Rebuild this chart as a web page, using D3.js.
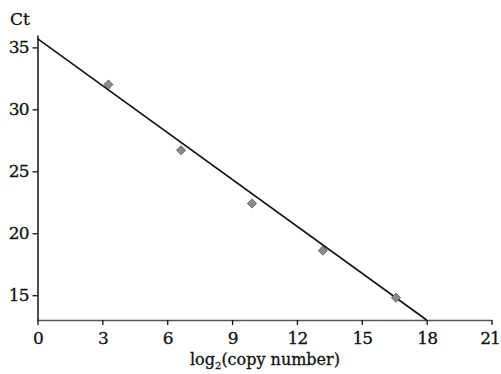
<!DOCTYPE html>
<html>
<head>
<meta charset="utf-8">
<script src="https://cdn.jsdelivr.net/npm/d3@7"></script>
<style>
  body { margin: 0; background: #fff; }
  svg text { font-family: "DejaVu Serif", "Liberation Serif", "Times New Roman", serif; fill: #111; stroke: #111; stroke-width: 0.3px; }
</style>
</head>
<body>
<script>
// Set up size
var width = 501;
var height = 374;
var margin = {left: 37.5, right: 9.5, top: 35, bottom: 54};

// Data: log2(copy number) vs Ct
var log2Copies = [3.28, 6.64, 9.92, 13.2, 16.58];
var ctValues = [32.0, 26.7, 22.4, 18.6, 14.8];

// Fitted line end points
var fitX = [0, 18];
var fitY = [35.7, 13.0];

var xTicks = [0, 3, 6, 9, 12, 15, 18, 21];
var yTicks = [15, 20, 25, 30, 35];

var x = d3.scaleLinear().domain([0, 21]).range([margin.left, width - margin.right]);
var y = d3.scaleLinear().domain([13, 36]).range([height - margin.bottom, margin.top]);

var svg = d3.select('body').append('svg')
  .attr('width', width)
  .attr('height', height);

// x axis
var xAxis = svg.append('g')
  .attr('transform', 'translate(0,' + y(13) + ')')
  .call(d3.axisBottom(x).tickValues(xTicks).tickSize(5).tickSizeOuter(0).tickPadding(7));
xAxis.select('.domain').attr('stroke', '#555').attr('stroke-width', 1.4);
xAxis.selectAll('line').attr('stroke', '#111').attr('stroke-width', 1.3);
xAxis.selectAll('text')
  .style('font-size', '17px')
  .style('letter-spacing', '-1px')
  .attr('dx', function (d) { return d === 21 ? -2 : 0; });

// y axis
var yAxis = svg.append('g')
  .attr('transform', 'translate(' + x(0) + ',0)')
  .call(d3.axisLeft(y).tickValues(yTicks).tickSize(5).tickSizeOuter(0).tickPadding(4));
yAxis.select('.domain').attr('stroke', '#111').attr('stroke-width', 1.5);
yAxis.selectAll('line').attr('stroke', '#111').attr('stroke-width', 1.3);
yAxis.selectAll('text')
  .style('font-size', '17px')
  .style('letter-spacing', '-1px');

// axis titles
svg.append('text')
  .attr('x', 10)
  .attr('y', 25)
  .style('font-size', '17px')
  .text('Ct');

var xl = svg.append('text')
  .attr('x', 190)
  .attr('y', 365)
  .style('font-size', '16px');
xl.append('tspan').text('log');
xl.append('tspan').style('font-size', '10px').attr('dy', 4).text('2');
xl.append('tspan').attr('dy', -4).text('(copy number)');

// fit line
var line = d3.line()
  .x(function (d) { return x(d[0]); })
  .y(function (d) { return y(d[1]); });

svg.append('path')
  .datum(d3.zip(fitX, fitY))
  .attr('d', line)
  .attr('fill', 'none')
  .attr('stroke', '#111')
  .attr('stroke-width', 1.6);

// data points as diamonds
svg.selectAll('path.pt')
  .data(d3.zip(log2Copies, ctValues))
  .enter()
  .append('path')
  .attr('class', 'pt')
  .attr('transform', function (d) { return 'translate(' + x(d[0]) + ',' + y(d[1]) + ')'; })
  .attr('d', d3.symbol().type(d3.symbolDiamond2).size(54))
  .attr('fill', '#8a8a8a')
  .attr('stroke', '#555')
  .attr('stroke-width', 0.8);
</script>
</body>
</html>
